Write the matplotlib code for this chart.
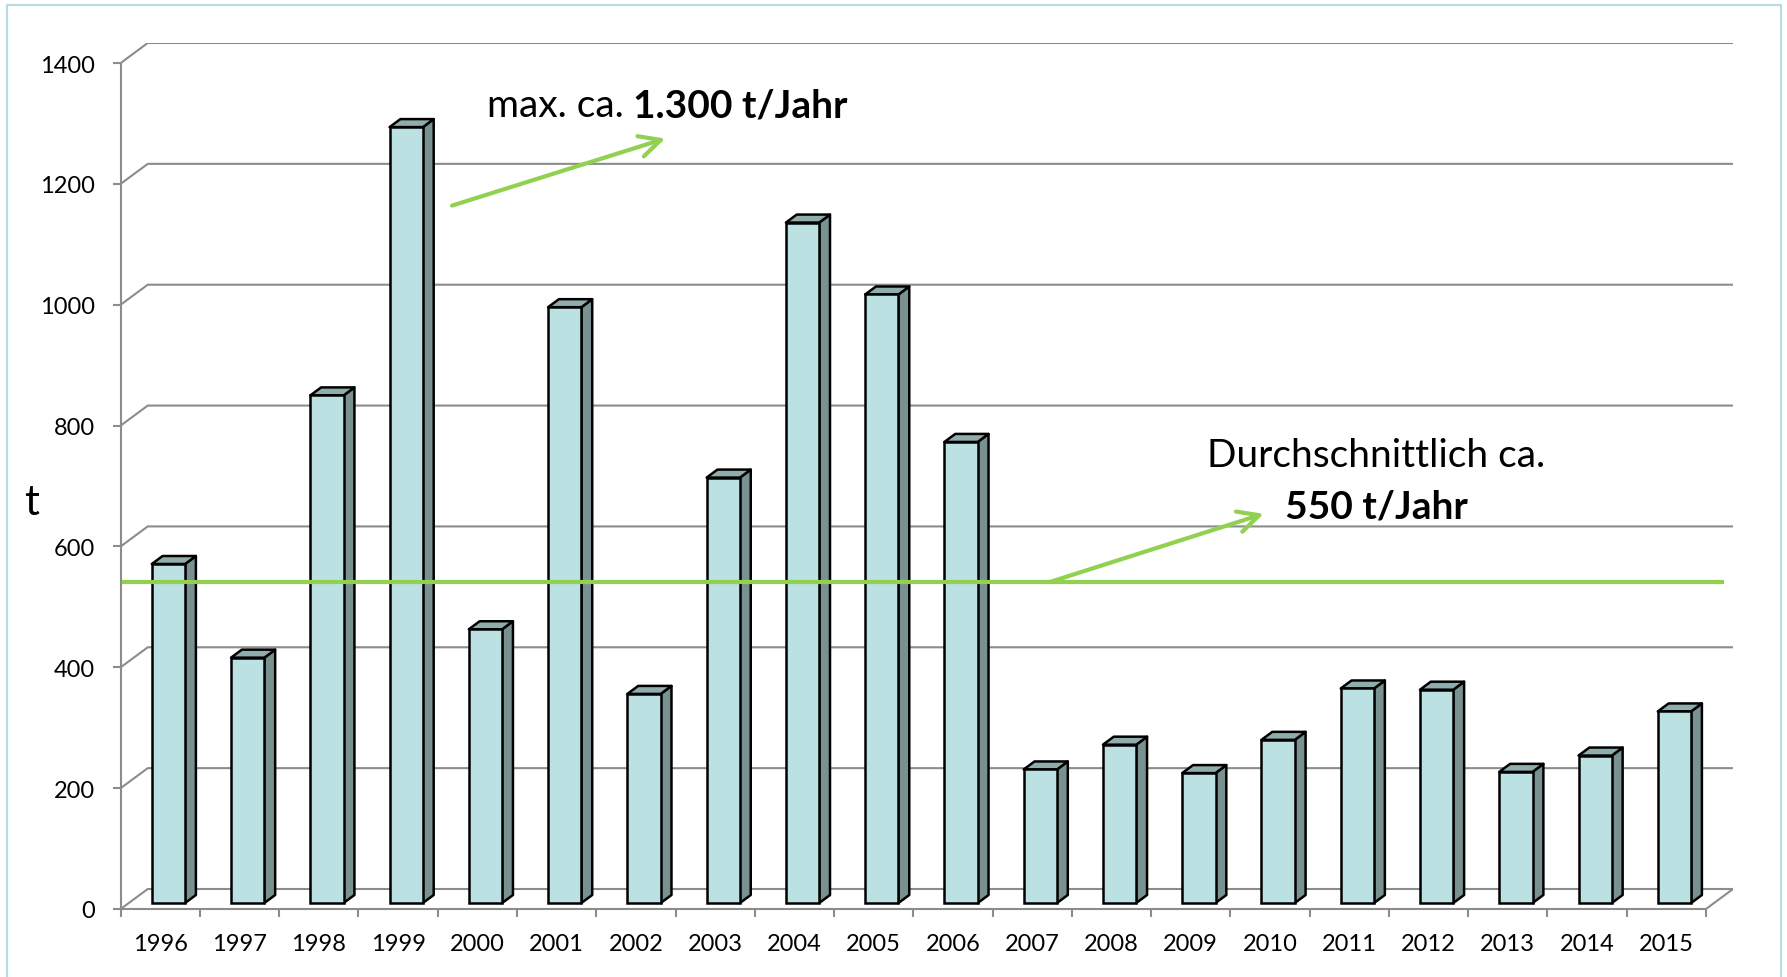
"""Jahresmengen 1996-2015 als Excel-artiges 3D-Saeulendiagramm"""
import matplotlib
matplotlib.use("Agg")
import matplotlib.pyplot as plt
from matplotlib.patches import Polygon
from matplotlib.lines import Line2D

years = [str(y) for y in range(1996, 2016)]
tonnes = [561, 406, 840, 1284, 453, 986, 346, 704, 1126, 1007,
          763, 221, 262, 215, 270, 355, 353, 217, 244, 317]
avg_line = 541
y_ticks = [0, 200, 400, 600, 800, 1000, 1200, 1400]

plt.rcParams['font.family'] = ['Lato', 'DejaVu Sans']

FRONT = '#bce1e3'
SIDE = '#7a9192'
TOP = '#90adae'
GRID = '#8c8c8c'
GREEN = '#92d050'

W_PX, H_PX = 1787, 978
N = len(years)
DX = 0.341      # depth of the back wall, category units
DY = 33.1       # depth of the back wall, value units
F0 = 0.3        # depth where bars start
FD = 0.4        # depth of the bars
BW = 0.42       # bar width


def px(x, y):
    return x / W_PX, 1 - y / H_PX


fig = plt.figure(figsize=(W_PX / 100, H_PX / 100), dpi=100)
ax = fig.add_axes([120.7 / W_PX, 68 / H_PX, 1612.3 / W_PX, 866 / H_PX])
ax.set_xlim(0, N + DX)
ax.set_ylim(0, y_ticks[-1] + DY)

# back wall grid with the diagonal floor/wall joins
for v in y_ticks:
    ax.plot([0, DX, N + DX], [v, v + DY, v + DY], color=GRID, lw=1.5, zorder=1)
ax.plot([N, N + DX], [0, DY], color=GRID, lw=1.5, zorder=1)

# bars: front via bar(), side and top as polygons
xs = [i + 0.5 + F0 * DX for i in range(N)]
ax.bar(xs, tonnes, width=BW, bottom=F0 * DY, color=FRONT,
       edgecolor='black', linewidth=1.8, zorder=3)
ddx, ddy = FD * DX, FD * DY
for x, v in zip(xs, tonnes):
    x0, x1 = x - BW / 2, x + BW / 2
    b, t = F0 * DY, v + F0 * DY
    side = Polygon([(x1, b), (x1 + ddx, b + ddy), (x1 + ddx, t + ddy), (x1, t)],
                   closed=True, facecolor=SIDE, edgecolor='black', lw=1.8,
                   joinstyle='round', zorder=2)
    top = Polygon([(x0, t), (x1, t), (x1 + ddx, t + ddy), (x0 + ddx, t + ddy)],
                  closed=True, facecolor=TOP, edgecolor='black', lw=1.8,
                  joinstyle='round', zorder=2)
    ax.add_patch(side)
    ax.add_patch(top)

# average line and arrows
ax.plot([0.02, N + 0.23], [avg_line, avg_line], color=GREEN, lw=3, zorder=5,
        solid_capstyle='butt')
arrow = dict(arrowstyle='->, head_length=0.4, head_width=0.2', color=GREEN,
             lw=3, mutation_scale=38, shrinkA=0, shrinkB=0)
ax.annotate('', xy=(6.87, 1275), xytext=(4.18, 1164), arrowprops=arrow, zorder=5)
ax.annotate('', xy=(14.42, 654), xytext=(11.72, avg_line), arrowprops=arrow, zorder=5)

# axes
for s in ['top', 'right']:
    ax.spines[s].set_visible(False)
for s in ['left', 'bottom']:
    ax.spines[s].set_color(GRID)
    ax.spines[s].set_linewidth(1.5)
ax.spines['left'].set_bounds(0, y_ticks[-1])
ax.spines['bottom'].set_bounds(0, N)

ax.set_yticks(y_ticks)
ax.tick_params(axis='y', length=5.8, width=1.5, color=GRID, pad=12.5, labelsize=17)
ax.set_xticks(range(N + 1))
ax.set_xticklabels([])
ax.set_xticks([i + 0.5 for i in range(N)], minor=True)
ax.set_xticklabels(years, minor=True)
ax.tick_params(axis='x', which='major', length=5.8, width=1.5, color=GRID)
ax.tick_params(axis='x', which='minor', length=0, pad=17.5, labelsize=17)

ax.set_ylabel('t', rotation=0, fontsize=30, va='center', ha='center')
ax.yaxis.set_label_coords(-0.055, 0.47)

# annotation texts
t1 = fig.text(*px(486.7, 117.3), 'max. ca. ', fontsize=28, va='baseline')
fig.canvas.draw()
bb = t1.get_window_extent()
fig.text(bb.x1 / W_PX, px(0, 117.3)[1], '1.300 t/Jahr', fontsize=28,
         fontweight='bold', va='baseline')
fig.text(*px(1376.5, 466.7), 'Durchschnittlich ca.', fontsize=28,
         ha='center', va='baseline')
fig.text(*px(1376.5, 519), '550 t/Jahr', fontsize=28, fontweight='bold',
         ha='center', va='baseline')

# outer frame
frame = dict(color='#b7dde3', lw=1.5, transform=fig.transFigure)
fig.add_artist(Line2D([7 / W_PX, 7 / W_PX], [0, px(0, 6)[1]], **frame))
fig.add_artist(Line2D([7 / W_PX, 1781 / W_PX], [px(0, 6)[1]] * 2, **frame))
fig.add_artist(Line2D([1781 / W_PX, 1781 / W_PX], [0, px(0, 6)[1]], **frame))

fig.savefig('out.png', dpi=100, facecolor='white')
